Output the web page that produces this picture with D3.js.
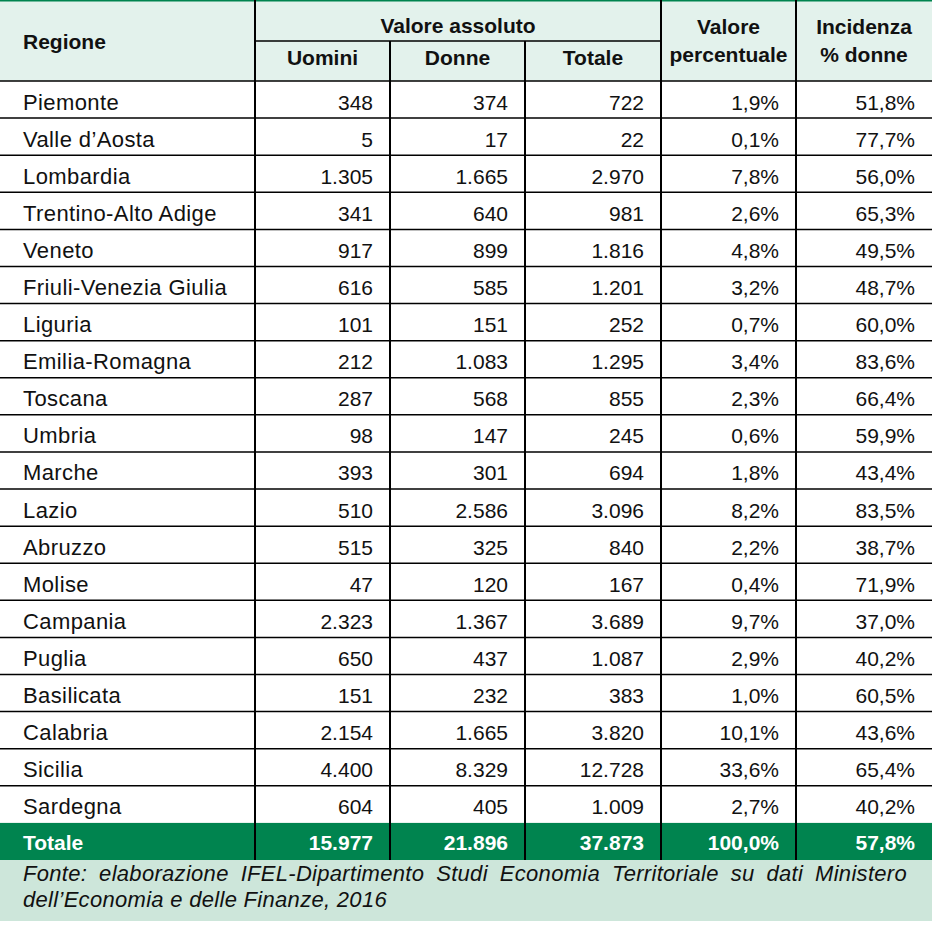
<!DOCTYPE html>
<html>
<head>
<meta charset="utf-8">
<script src="https://cdn.jsdelivr.net/npm/d3@7"></script>
<style>
  body { margin: 0; background: #fff; }
  text { font-family: "Liberation Sans", Arial, sans-serif; font-size: 21px; fill: #111; }
  .name { font-size: 22px; letter-spacing: 0.4px; }
  .note { font-size: 22px; letter-spacing: 0.3px; font-style: italic; }
</style>
</head>
<body>
<div id="chart"></div>
<script>
var regioni = ['Piemonte', 'Valle d’Aosta', 'Lombardia', 'Trentino-Alto Adige', 'Veneto',
  'Friuli-Venezia Giulia', 'Liguria', 'Emilia-Romagna', 'Toscana', 'Umbria', 'Marche',
  'Lazio', 'Abruzzo', 'Molise', 'Campania', 'Puglia', 'Basilicata', 'Calabria', 'Sicilia', 'Sardegna']
var uomini = [348, 5, 1305, 341, 917, 616, 101, 212, 287, 98, 393, 510, 515, 47, 2323, 650, 151, 2154, 4400, 604]
var donne = [374, 17, 1665, 640, 899, 585, 151, 1083, 568, 147, 301, 2586, 325, 120, 1367, 437, 232, 1665, 8329, 405]
var totale = [722, 22, 2970, 981, 1816, 1201, 252, 1295, 855, 245, 694, 3096, 840, 167, 3689, 1087, 383, 3820, 12728, 1009]
var valorePerc = [1.9, 0.1, 7.8, 2.6, 4.8, 3.2, 0.7, 3.4, 2.3, 0.6, 1.8, 8.2, 2.2, 0.4, 9.7, 2.9, 1.0, 10.1, 33.6, 2.7]
var incidenza = [51.8, 77.7, 56.0, 65.3, 49.5, 48.7, 60.0, 83.6, 66.4, 59.9, 43.4, 83.5, 38.7, 71.9, 37.0, 40.2, 60.5, 43.6, 65.4, 40.2]
var totaleRiga = { label: 'Totale', uomini: 15977, donne: 21896, totale: 37873, perc: 100.0, inc: 57.8 }
var fonte1 = 'Fonte: elaborazione IFEL-Dipartimento Studi Economia Territoriale su dati Ministero'
var fonte2 = 'dell’Economia e delle Finanze, 2016'

var W = 940, H = 925
var green = '#00844f', headBg = '#e3f2ec', footBg = '#cde6da'
var cols = [0, 255, 390, 525, 661, 796, 932]
var tableW = cols[cols.length - 1]

var it = d3.formatLocale({ decimal: ',', thousands: '.', grouping: [3], currency: ['€', ''] })
var fInt = it.format(',d')
var fDec = it.format('.1f')
var fPct = function (v) { return fDec(v) + '%' }

var y = d3.scaleBand().domain(d3.range(regioni.length + 1)).range([81, 860])
var bw = y.bandwidth()

var svg = d3.select('#chart').append('svg').attr('width', W).attr('height', H)

// backgrounds
svg.append('rect').attr('x', 0).attr('y', 0).attr('width', tableW).attr('height', 81).attr('fill', headBg)
svg.append('rect').attr('x', 0).attr('y', 0).attr('width', tableW).attr('height', 1.5).attr('fill', green)
svg.append('rect').attr('x', 0).attr('y', y(regioni.length)).attr('width', tableW).attr('height', bw).attr('fill', green)
svg.append('rect').attr('x', 0).attr('y', 860).attr('width', tableW).attr('height', 61).attr('fill', footBg)

// horizontal rules
var hl = svg.append('g').attr('stroke', '#000').attr('stroke-width', 1.5)
hl.append('line').attr('x1', cols[1]).attr('x2', cols[4]).attr('y1', 41).attr('y2', 41)
hl.append('line').attr('x1', 0).attr('x2', tableW).attr('y1', 81).attr('y2', 81)
hl.selectAll('line.row').data(d3.range(regioni.length - 1)).join('line').attr('class', 'row')
  .attr('x1', 0).attr('x2', tableW)
  .attr('y1', function (i) { return y(i) + bw }).attr('y2', function (i) { return y(i) + bw })

// vertical rules
var vl = svg.append('g').attr('stroke', '#000').attr('stroke-width', 2)
;[1, 2, 3, 4, 5].forEach(function (k) {
  vl.append('line').attr('x1', cols[k]).attr('x2', cols[k])
    .attr('y1', (k === 2 || k === 3) ? 41 : 0).attr('y2', 860)
})

// header
var hd = svg.append('g').style('font-weight', 'bold')
function mid(k) { return (cols[k] + cols[k + 1]) / 2 }
hd.append('text').attr('x', 23).attr('y', 49).text('Regione')
hd.append('text').attr('x', (cols[1] + cols[4]) / 2).attr('y', 33).attr('text-anchor', 'middle').text('Valore assoluto')
hd.append('text').attr('x', mid(1)).attr('y', 65).attr('text-anchor', 'middle').text('Uomini')
hd.append('text').attr('x', mid(2)).attr('y', 65).attr('text-anchor', 'middle').text('Donne')
hd.append('text').attr('x', mid(3)).attr('y', 65).attr('text-anchor', 'middle').text('Totale')
hd.append('text').attr('x', mid(4)).attr('y', 34).attr('text-anchor', 'middle').text('Valore')
hd.append('text').attr('x', mid(4)).attr('y', 62).attr('text-anchor', 'middle').text('percentuale')
hd.append('text').attr('x', mid(5)).attr('y', 34).attr('text-anchor', 'middle').text('Incidenza')
hd.append('text').attr('x', mid(5)).attr('y', 62).attr('text-anchor', 'middle').text('% donne')

// body rows
var rows = regioni.map(function (r, i) {
  return [r, fInt(uomini[i]), fInt(donne[i]), fInt(totale[i]), fPct(valorePerc[i]), fPct(incidenza[i])]
})
var body = svg.append('g')
var rg = body.selectAll('g.r').data(rows).join('g').attr('class', 'r')
  .attr('transform', function (d, i) { return 'translate(0,' + (y(i) + 28.5) + ')' })
rg.selectAll('text').data(function (d) { return d }).join('text')
  .attr('class', function (d, k) { return k === 0 ? 'name' : null })
  .attr('x', function (d, k) { return k === 0 ? 23 : cols[k + 1] - 17 })
  .attr('text-anchor', function (d, k) { return k === 0 ? 'start' : 'end' })
  .text(function (d) { return d })

// total row
var tr = [totaleRiga.label, fInt(totaleRiga.uomini), fInt(totaleRiga.donne), fInt(totaleRiga.totale),
  fPct(totaleRiga.perc), fPct(totaleRiga.inc)]
svg.append('g').attr('transform', 'translate(0,' + (y(regioni.length) + 27) + ')')
  .selectAll('text').data(tr).join('text')
  .attr('x', function (d, k) { return k === 0 ? 23 : cols[k + 1] - 17 })
  .attr('text-anchor', function (d, k) { return k === 0 ? 'start' : 'end' })
  .style('font-weight', 'bold').style('fill', '#fff')
  .text(function (d) { return d })

// source note, first line justified
var ft = svg.append('g')
var words = fonte1.split(' ')
var wt = ft.selectAll('text.w').data(words).join('text').attr('class', 'w note').attr('y', 881).text(function (d) { return d })
var widths = []
wt.each(function () { widths.push(this.getComputedTextLength()) })
var gap = (907 - 23 - d3.sum(widths)) / (words.length - 1)
var xpos = 23
wt.attr('x', function (d, i) { var x = xpos; xpos += widths[i] + gap; return x })
ft.append('text').attr('class', 'note').attr('x', 23).attr('y', 907).text(fonte2)
</script>
</body>
</html>
